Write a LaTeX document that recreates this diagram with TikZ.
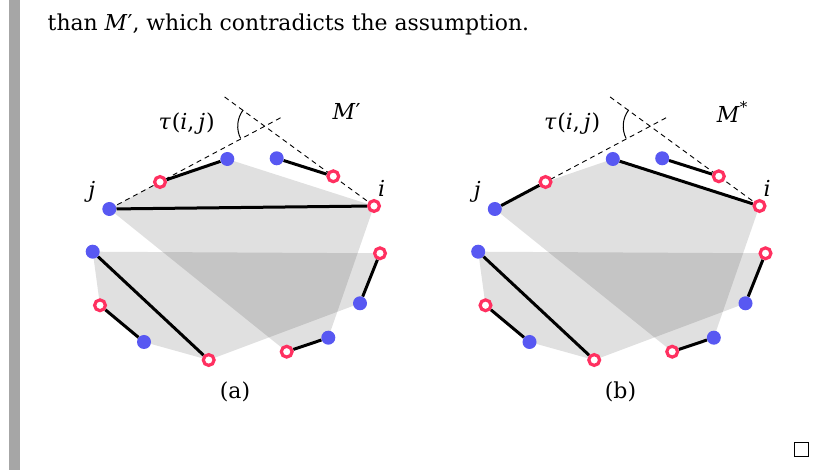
\documentclass[tikz,border=0pt]{standalone}
\usepackage{fontspec}
\setmainfont{DejaVu Serif}
\usetikzlibrary{calc}
\definecolor{dotblue}{RGB}{88,88,242}
\definecolor{ringred}{RGB}{255,48,96}
\definecolor{bargray}{RGB}{166,166,166}
\pgfdeclarelayer{bg}
\pgfdeclarelayer{mid}
\pgfsetlayers{bg,mid,main}
\tikzset{
  bdot/.style={circle,fill=dotblue,inner sep=0pt,minimum size=14pt},
  rdot/.style={circle,draw=ringred,line width=3.2pt,fill=white,inner sep=0pt,minimum size=10.8pt},
  matchline/.style={line width=3pt},
  hull/.style={fill=black,fill opacity=0.12},
  guide/.style={dash pattern=on 5pt off 4pt,line width=0.9pt},
  lbl/.style={font=\fontsize{22}{26}\selectfont,inner sep=0pt},
}
\newcommand\mypanel[4]{%
  \begin{scope}[xshift=#2]
    \node[bdot] (#1j)  at (109.3,261)   {};
    \node[rdot] (#1A1) at (160,288)     {};
    \node[bdot] (#1A2) at (227.3,311)   {};
    \node[bdot] (#1A3) at (276.7,311.7) {};
    \node[rdot] (#1A4) at (333.3,293.7) {};
    \node[rdot] (#1i)  at (374,264)     {};
    \node[bdot] (#1B1) at (92.7,218.3)  {};
    \node[rdot] (#1B2) at (100,164.7)   {};
    \node[bdot] (#1B3) at (144,128)     {};
    \node[rdot] (#1B4) at (208.7,110)   {};
    \node[rdot] (#1B5) at (286.7,118.3) {};
    \node[bdot] (#1B6) at (328.3,132.3) {};
    \node[bdot] (#1B7) at (360,166.7)   {};
    \node[rdot] (#1B8) at (380,216.7)   {};
    \node[lbl] (#1tau) at (186.7,346.7) {\itshape τ\kern1pt\upshape(\textit{i},\kern4pt\textit{j}\kern1pt)};
    \node[lbl] (#1M)   at (346.7,358.3) {#3};
    \node[lbl] (#1jl)  at (91.7,278.3)  {\textit{j}};
    \node[lbl] (#1il)  at (381.7,281.7) {\textit{i}};
    \node[lbl] (#1cap) at (235,78.3)    {#4};
    \coordinate (#1X) at (intersection of #1j.center--#1A1.center and #1i.center--#1A4.center);
    \coordinate (#1e1) at ($(#1j.center)!3.38!(#1A1.center)$);
    \coordinate (#1e2) at ($(#1i.center)!3.72!(#1A4.center)$);
    \begin{pgfonlayer}{bg}
      \fill[hull] (#1j.center) -- (#1A1.center) -- (#1A2.center) -- (#1i.center)
        -- (#1B6.center) -- (#1B5.center) -- cycle;
      \fill[hull] (#1B1.center) -- (#1B8.center) -- (#1B7.center) -- (#1B4.center)
        -- (#1B3.center) -- (#1B2.center) -- cycle;
    \end{pgfonlayer}
    \begin{pgfonlayer}{mid}
      \draw[guide] (#1j.center) -- (#1e1);
      \draw[guide] (#1i.center) -- (#1e2);
      \draw[line width=1pt] ($(#1X)+(143:27)$) arc[start angle=143,end angle=207,radius=27];
      \draw[matchline] (#1A3) -- (#1A4);
      \draw[matchline] (#1B1) -- (#1B4);
      \draw[matchline] (#1B2) -- (#1B3);
      \draw[matchline] (#1B5) -- (#1B6);
      \draw[matchline] (#1B7) -- (#1B8);
    \end{pgfonlayer}
  \end{scope}%
}
\begin{document}
\begin{tikzpicture}[x=1pt,y=1pt]
  \useasboundingbox (0,0) rectangle (826,470);
  \fill[bargray] (9,0) rectangle (20,470);
  \node[anchor=base west,inner sep=0pt,font=\fontsize{21.9}{26}\selectfont] (txt) at (47.5,439.3) {than \textit{M}′, which contradicts the assumption.};
  \mypanel{a}{0pt}{\textit{M}′}{(a)}
  \mypanel{b}{385.5pt}{\textit{M}\raisebox{0.45em}{\fontsize{15}{17}\selectfont *}}{(b)}
  \begin{pgfonlayer}{mid}
    \draw[matchline] (aA1) -- (aA2);
    \draw[matchline] (aj) -- (ai);
    \draw[matchline] (bj) -- (bA1);
    \draw[matchline] (bA2) -- (bi);
  \end{pgfonlayer}
  \node[draw,line width=1.3pt,minimum size=14pt,inner sep=0pt] (qed) at (801.2,20.7) {};
\end{tikzpicture}
\end{document}
